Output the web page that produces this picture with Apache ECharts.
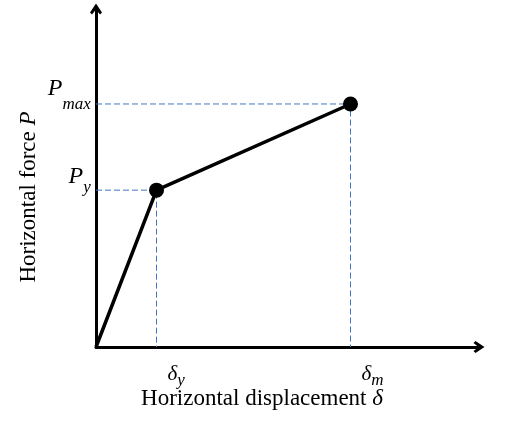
<!DOCTYPE html>
<html><head><meta charset="utf-8">
<script src="https://cdn.jsdelivr.net/npm/echarts@6/dist/echarts.min.js"></script>
<style>html,body{margin:0;padding:0;background:#fff}#c{width:505px;height:423px}</style>
</head><body><div id="c"></div>
<script>
// ---- data ----
const displacement = [0, 15.8, 66.45];
const force = [0, 46.4, 71.9];
const keyPointIndex = [1, 2];
const xTickMain = ['δ', 'δ'];
const xTickSub = ['y', 'm'];
const yTickMain = ['P', 'P'];
const yTickSub = ['y', 'max'];
const xAxisTitle = 'Horizontal displacement ';
const xAxisSymbol = 'δ';
const yAxisTitle = 'Horizontal force ';
const yAxisSymbol = 'P';

// ---- build ----
const FONT = "'Liberation Serif','Times New Roman',serif";
const curve = displacement.map((d, i) => [d, force[i]]);
const keyPts = keyPointIndex.map(i => [displacement[i], force[i]]);
const xTickVals = keyPointIndex.map(i => displacement[i]);
const yTickVals = keyPointIndex.map(i => force[i]);
const nearest = (arr, v) => { let b = 0; arr.forEach((a, i) => { if (Math.abs(a - v) < Math.abs(arr[b] - v)) b = i; }); return b; };
const arrow = 'path://M6 0L12 9L10 11L6 6L2 11L0 9Z';

const guideSeries = keyPointIndex.map(i => ({
  type: 'line',
  data: [[0, force[i]], [displacement[i], force[i]], [displacement[i], 0]],
  showSymbol: false, silent: true, z: 1,
  lineStyle: { color: '#4472c4', width: 1, type: [6, 3] }
}));

const chart = echarts.init(document.getElementById('c'), null, { renderer: 'canvas' });
chart.setOption({
  animation: false,
  backgroundColor: '#fff',
  grid: { left: 96, right: 26, top: 9, bottom: 76, containLabel: false },
  xAxis: {
    type: 'value', min: 0, max: 100,
    name: '{n|' + xAxisTitle + '}{i|' + xAxisSymbol + '}',
    nameLocation: 'middle', nameGap: 40, nameMoveOverlap: false,
    nameTextStyle: {
      padding: [0, 51, 0, 0],
      rich: {
        n: { fontFamily: FONT, fontSize: 23, lineHeight: 23, color: '#000' },
        i: { fontFamily: FONT, fontSize: 23, lineHeight: 23, color: '#000', fontStyle: 'italic' }
      }
    },
    axisLine: { show: true, symbol: ['none', arrow], symbolSize: [12, 11], lineStyle: { color: '#000', width: 3 } },
    axisTick: { show: false },
    splitLine: { show: false },
    axisLabel: {
      customValues: xTickVals,
      margin: 17,
      align: 'left',
      formatter: v => { const k = nearest(xTickVals, v); return '{d|' + xTickMain[k] + '}{s|' + xTickSub[k] + '}'; },
      rich: {
        d: { fontFamily: FONT, fontStyle: 'italic', fontSize: 21, lineHeight: 20, color: '#000', verticalAlign: 'top', padding: [0, 0, 0, 11] },
        s: { fontFamily: FONT, fontStyle: 'italic', fontSize: 17, lineHeight: 17, color: '#000', verticalAlign: 'top', padding: [8, 0, 0, 0] }
      }
    }
  },
  yAxis: {
    type: 'value', min: 0, max: 100,
    name: '{n|' + yAxisTitle + '}{i|' + yAxisSymbol + '}',
    nameLocation: 'middle', nameGap: 56, nameMoveOverlap: false,
    nameTextStyle: {
      padding: [0, 38, 0, 0],
      rich: {
        n: { fontFamily: FONT, fontSize: 23, lineHeight: 23, color: '#000' },
        i: { fontFamily: FONT, fontSize: 23, lineHeight: 23, color: '#000', fontStyle: 'italic' }
      }
    },
    axisLine: { show: true, symbol: ['none', arrow], symbolSize: [12, 11], lineStyle: { color: '#000', width: 3 } },
    axisTick: { show: false },
    splitLine: { show: false },
    axisLabel: {
      customValues: yTickVals,
      margin: 5,
      formatter: v => { const k = nearest(yTickVals, v); return k === 0 ? '{a|' + yTickMain[k] + '}{as|' + yTickSub[k] + '}{az| }' : '{b|' + yTickMain[k] + '}{bs|' + yTickSub[k] + '}{bz| }'; },
      rich: {
        a: { fontFamily: FONT, fontStyle: 'italic', fontSize: 24, lineHeight: 24, color: '#000', verticalAlign: 'top' },
        as: { fontFamily: FONT, fontStyle: 'italic', fontSize: 17, lineHeight: 17, color: '#000', verticalAlign: 'top', padding: [14, 0, 0, 0] },
        az: { fontSize: 1, lineHeight: 50, verticalAlign: 'top' },
        b: { fontFamily: FONT, fontStyle: 'italic', fontSize: 24, lineHeight: 24, color: '#000', verticalAlign: 'top' },
        bs: { fontFamily: FONT, fontStyle: 'italic', fontSize: 17, lineHeight: 17, color: '#000', verticalAlign: 'top', padding: [19, 0, 0, 0] },
        bz: { fontSize: 1, lineHeight: 54, verticalAlign: 'top' }
      }
    }
  },
  series: guideSeries.concat([
    { type: 'line', data: curve, showSymbol: false, z: 3, lineStyle: { color: '#000', width: 3.5 } },
    { type: 'scatter', data: keyPts, symbol: 'circle', symbolSize: 15, z: 4, itemStyle: { color: '#000', opacity: 1 } }
  ])
});
</script></body></html>
